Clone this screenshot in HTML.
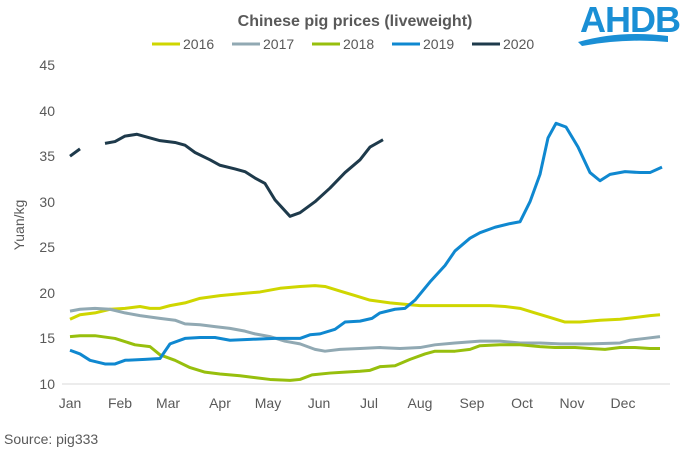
<!DOCTYPE html>
<html><head><style>body{margin:0;background:#fff}svg{font-family:"Liberation Sans",sans-serif}</style></head><body>
<svg width="680" height="454" xmlns="http://www.w3.org/2000/svg">
<text x="355" y="26" text-anchor="middle" font-size="16" font-weight="bold" fill="#595959">Chinese pig prices (liveweight)</text>
<g font-size="14" fill="#595959">
<line x1="152" y1="44" x2="180" y2="44" stroke="#cfd600" stroke-width="3"/><text x="183" y="49">2016</text>
<line x1="232" y1="44" x2="260" y2="44" stroke="#91a9b3" stroke-width="3"/><text x="263" y="49">2017</text>
<line x1="312" y1="44" x2="340" y2="44" stroke="#97bf0d" stroke-width="3"/><text x="343" y="49">2018</text>
<line x1="392" y1="44" x2="420" y2="44" stroke="#0f88d0" stroke-width="3"/><text x="423" y="49">2019</text>
<line x1="472" y1="44" x2="500" y2="44" stroke="#1e3a4b" stroke-width="3"/><text x="503" y="49">2020</text>
</g>
<text x="630" y="32" text-anchor="middle" font-size="36" font-weight="bold" fill="#1a8fd5" letter-spacing="-1">AHDB</text>
<path d="M578 42 Q620 30 668 36 L668 42 Q625 38 582 46 Z" fill="#1a8fd5"/>
<g font-size="14" fill="#595959" text-anchor="end">
<text x="55" y="70">45</text><text x="55" y="116">40</text><text x="55" y="161">35</text><text x="55" y="207">30</text><text x="55" y="252">25</text><text x="55" y="298">20</text><text x="55" y="343">15</text><text x="55" y="389">10</text>
</g>
<text transform="translate(24,225) rotate(-90)" text-anchor="middle" font-size="14" fill="#595959">Yuan/kg</text>
<line x1="62" y1="384" x2="670" y2="384" stroke="#d9d9d9"/>
<g font-size="14" fill="#595959" text-anchor="middle">
<text x="70" y="408">Jan</text><text x="120" y="408">Feb</text><text x="168" y="408">Mar</text><text x="220" y="408">Apr</text><text x="268" y="408">May</text><text x="319" y="408">Jun</text><text x="369" y="408">Jul</text><text x="420" y="408">Aug</text><text x="472" y="408">Sep</text><text x="522" y="408">Oct</text><text x="572" y="408">Nov</text><text x="623" y="408">Dec</text>
</g>
<text x="4" y="444" font-size="14" fill="#595959">Source: pig333</text>
<g fill="none" stroke-width="3" stroke-linejoin="round" transform="translate(0,384) scale(1,-9.114) translate(0,-10)">
<polyline vector-effect="non-scaling-stroke" stroke="#cfd600" points="70,17.1 80,17.6 95,17.8 110,18.2 125,18.3 140,18.5 150,18.3 160,18.3 170,18.6 185,18.9 200,19.4 220,19.7 240,19.9 260,20.1 280,20.5 300,20.7 315,20.8 325,20.7 340,20.2 355,19.7 370,19.2 390,18.9 410,18.7 420,18.6 435,18.6 460,18.6 490,18.6 505,18.5 520,18.3 535,17.8 550,17.3 565,16.8 580,16.8 600,17.0 620,17.1 635,17.3 650,17.5 660,17.6"/>
<polyline vector-effect="non-scaling-stroke" stroke="#91a9b3" points="70,18.0 80,18.2 95,18.3 110,18.2 125,17.8 140,17.5 160,17.2 175,17.0 185,16.6 200,16.5 215,16.3 230,16.1 245,15.8 255,15.5 270,15.2 285,14.7 300,14.4 315,13.8 325,13.6 340,13.8 360,13.9 380,14.0 400,13.9 420,14.0 435,14.3 455,14.5 480,14.7 500,14.7 520,14.5 540,14.5 560,14.4 590,14.4 620,14.5 630,14.8 645,15.0 660,15.2"/>
<polyline vector-effect="non-scaling-stroke" stroke="#97bf0d" points="70,15.2 80,15.3 95,15.3 115,15.0 135,14.3 150,14.1 160,13.2 175,12.6 190,11.8 205,11.3 220,11.1 240,10.9 255,10.7 270,10.5 290,10.4 300,10.5 312,11.0 330,11.2 345,11.3 360,11.4 370,11.5 380,11.9 395,12.0 410,12.7 425,13.3 435,13.6 455,13.6 470,13.8 480,14.2 500,14.3 520,14.3 540,14.1 555,14.0 575,14.0 590,13.9 605,13.8 620,14.0 635,14.0 650,13.9 660,13.9"/>
<polyline vector-effect="non-scaling-stroke" stroke="#0f88d0" points="70,13.7 80,13.3 90,12.6 105,12.2 115,12.2 125,12.6 145,12.7 160,12.8 170,14.4 185,15.0 200,15.1 215,15.1 230,14.8 250,14.9 275,15.0 300,15.0 310,15.4 320,15.5 335,16.0 345,16.8 360,16.9 372,17.2 380,17.8 395,18.2 405,18.3 415,19.2 430,21.2 445,23.0 455,24.6 470,26.0 480,26.6 495,27.2 510,27.6 520,27.8 530,30.0 540,33.0 548,37.0 556,38.6 566,38.2 578,36.0 590,33.2 600,32.3 610,33.0 625,33.3 640,33.2 650,33.2 662,33.8"/>
<polyline vector-effect="non-scaling-stroke" stroke="#1e3a4b" points="70,35.0 80,35.8"/>
<polyline vector-effect="non-scaling-stroke" stroke="#1e3a4b" points="105,36.4 115,36.6 125,37.2 137,37.4 150,37.0 160,36.7 175,36.5 185,36.2 195,35.4 210,34.6 220,34.0 235,33.6 245,33.3 255,32.6 265,32.0 275,30.2 290,28.4 300,28.8 315,30.0 330,31.5 345,33.2 360,34.6 370,36.0 383,36.8"/>
</g>
</svg>
</body></html>
